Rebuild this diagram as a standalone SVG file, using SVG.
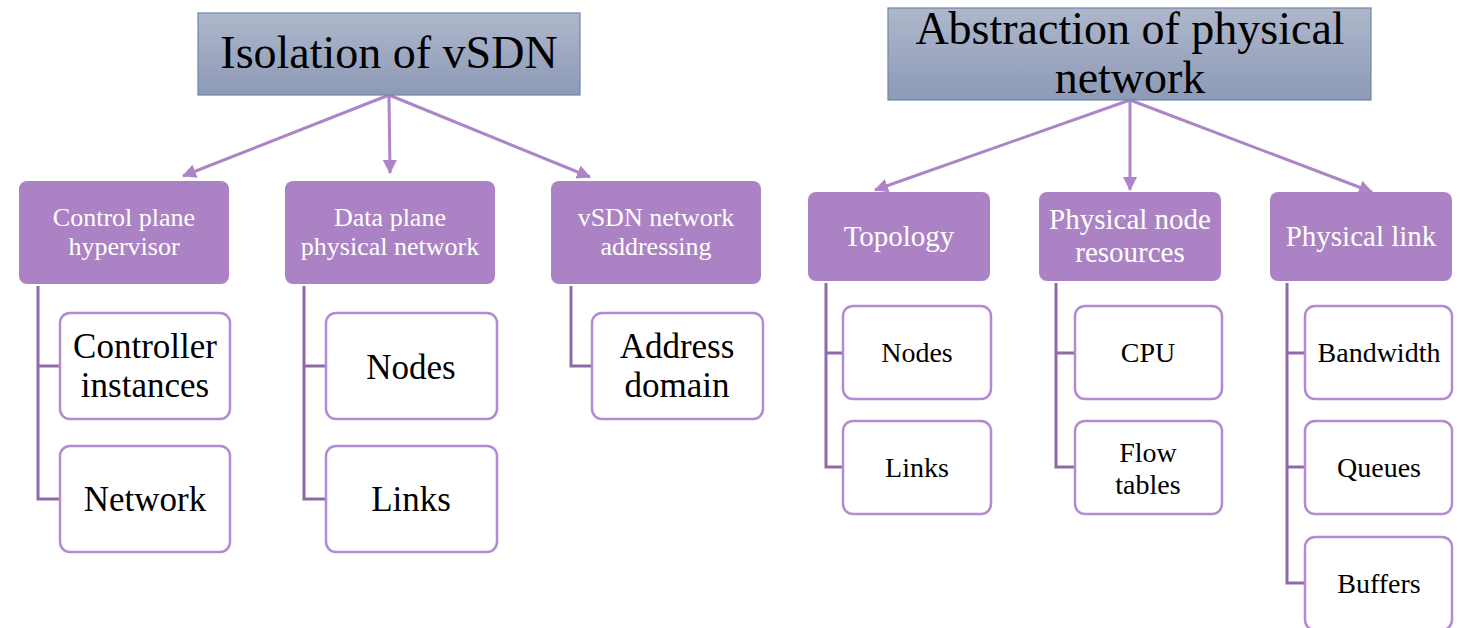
<svg xmlns="http://www.w3.org/2000/svg" width="1463" height="628" viewBox="0 0 1463 628">
  <defs>
    <linearGradient id="topFill" x1="0" y1="0" x2="0" y2="1">
      <stop offset="0" stop-color="#aeb7cb"/>
      <stop offset="1" stop-color="#8d9ab6"/>
    </linearGradient>
    <marker id="arrow" viewBox="0 0 14 14" refX="13" refY="7" markerWidth="14" markerHeight="14" markerUnits="userSpaceOnUse" orient="auto">
      <path d="M0,0 L14,7 L0,14 z" fill="#ad84c8"/>
    </marker>
    <style>
      .top { fill: url(#topFill); stroke: #6f87ab; stroke-width: 1.2; }
      .cat { fill: #ab83c4; }
      .leaf { fill: #ffffff; stroke: #b48ad0; stroke-width: 2.5; }
      .t { font-family: "Liberation Serif", serif; text-anchor: middle; fill: #000; }
      .tw { font-family: "Liberation Serif", serif; text-anchor: middle; fill: #ffffff; }
      .arr { stroke: #ad84c8; stroke-width: 3; fill: none; }
      .tree { stroke: #8f6aa8; stroke-width: 3; fill: none; }
    </style>
  </defs>

  <!-- connectors -->
  <g id="connectors">
    <line class="arr" x1="389" y1="95" x2="183" y2="176" marker-end="url(#arrow)"/>
    <line class="arr" x1="389" y1="95" x2="390" y2="173" marker-end="url(#arrow)"/>
    <line class="arr" x1="389" y1="95" x2="590" y2="177" marker-end="url(#arrow)"/>
    <line class="arr" x1="1130" y1="100" x2="875" y2="190" marker-end="url(#arrow)"/>
    <line class="arr" x1="1130" y1="100" x2="1130" y2="190" marker-end="url(#arrow)"/>
    <line class="arr" x1="1130" y1="100" x2="1372" y2="192" marker-end="url(#arrow)"/>

    <path class="tree" d="M38,286 V499 H60 M38,366 H60"/>
    <path class="tree" d="M304,286 V499 H326 M304,366 H326"/>
    <path class="tree" d="M571,286 V366 H592"/>
    <path class="tree" d="M826,283 V467 H843 M826,353 H843"/>
    <path class="tree" d="M1056,283 V467 H1075 M1056,353 H1075"/>
    <path class="tree" d="M1287,283 V583 H1305 M1287,353 H1305 M1287,467 H1305"/>
  </g>

  <!-- top-level nodes -->
  <g id="isolation">
    <rect class="top" x="198" y="13" width="382" height="82"/>
    <text class="t" x="389" y="68" font-size="46">Isolation of vSDN</text>
  </g>
  <g id="abstraction">
    <rect class="top" x="888" y="8" width="483" height="92"/>
    <text class="t" x="1130" y="44" font-size="46">Abstraction of physical</text>
    <text class="t" x="1130" y="93" font-size="46">network</text>
  </g>

  <!-- isolation categories -->
  <g id="control-plane">
    <rect class="cat" x="19" y="181" width="210" height="103" rx="8"/>
    <text class="tw" x="124" y="226" font-size="26">Control plane</text>
    <text class="tw" x="124" y="255" font-size="26">hypervisor</text>
  </g>
  <g id="data-plane">
    <rect class="cat" x="285" y="181" width="210" height="103" rx="8"/>
    <text class="tw" x="390" y="226" font-size="26">Data plane</text>
    <text class="tw" x="390" y="255" font-size="26">physical network</text>
  </g>
  <g id="vsdn-addressing">
    <rect class="cat" x="551" y="181" width="210" height="103" rx="8"/>
    <text class="tw" x="656" y="226" font-size="26">vSDN network</text>
    <text class="tw" x="656" y="255" font-size="26">addressing</text>
  </g>

  <!-- isolation leaves -->
  <g id="controller-instances">
    <rect class="leaf" x="60" y="313" width="170" height="106" rx="10"/>
    <text class="t" x="145" y="358" font-size="35">Controller</text>
    <text class="t" x="145" y="397" font-size="35">instances</text>
  </g>
  <g id="cp-network">
    <rect class="leaf" x="60" y="446" width="170" height="106" rx="10"/>
    <text class="t" x="145" y="511" font-size="35">Network</text>
  </g>
  <g id="dp-nodes">
    <rect class="leaf" x="326" y="313" width="171" height="106" rx="10"/>
    <text class="t" x="411" y="379" font-size="35">Nodes</text>
  </g>
  <g id="dp-links">
    <rect class="leaf" x="326" y="446" width="171" height="106" rx="10"/>
    <text class="t" x="411" y="511" font-size="35">Links</text>
  </g>
  <g id="address-domain">
    <rect class="leaf" x="592" y="313" width="171" height="106" rx="10"/>
    <text class="t" x="677" y="358" font-size="35">Address</text>
    <text class="t" x="677" y="397" font-size="35">domain</text>
  </g>

  <!-- abstraction categories -->
  <g id="topology">
    <rect class="cat" x="808" y="192" width="182" height="89" rx="8"/>
    <text class="tw" x="899" y="246" font-size="29">Topology</text>
  </g>
  <g id="physical-node">
    <rect class="cat" x="1039" y="192" width="182" height="89" rx="8"/>
    <text class="tw" x="1130" y="229" font-size="29">Physical node</text>
    <text class="tw" x="1130" y="262" font-size="29">resources</text>
  </g>
  <g id="physical-link">
    <rect class="cat" x="1270" y="192" width="182" height="89" rx="8"/>
    <text class="tw" x="1361" y="246" font-size="29">Physical link</text>
  </g>

  <!-- abstraction leaves -->
  <g id="topo-nodes">
    <rect class="leaf" x="843" y="306" width="148" height="93" rx="10"/>
    <text class="t" x="917" y="362" font-size="28">Nodes</text>
  </g>
  <g id="topo-links">
    <rect class="leaf" x="843" y="421" width="148" height="93" rx="10"/>
    <text class="t" x="917" y="477" font-size="28">Links</text>
  </g>
  <g id="cpu">
    <rect class="leaf" x="1075" y="306" width="147" height="93" rx="10"/>
    <text class="t" x="1148" y="362" font-size="28">CPU</text>
  </g>
  <g id="flow-tables">
    <rect class="leaf" x="1075" y="421" width="147" height="93" rx="10"/>
    <text class="t" x="1148" y="462" font-size="28">Flow</text>
    <text class="t" x="1148" y="494" font-size="28">tables</text>
  </g>
  <g id="bandwidth">
    <rect class="leaf" x="1305" y="306" width="147" height="93" rx="10"/>
    <text class="t" x="1379" y="362" font-size="28">Bandwidth</text>
  </g>
  <g id="queues">
    <rect class="leaf" x="1305" y="421" width="147" height="93" rx="10"/>
    <text class="t" x="1379" y="477" font-size="28">Queues</text>
  </g>
  <g id="buffers">
    <rect class="leaf" x="1305" y="537" width="147" height="93" rx="10"/>
    <text class="t" x="1379" y="593" font-size="28">Buffers</text>
  </g>
</svg>
